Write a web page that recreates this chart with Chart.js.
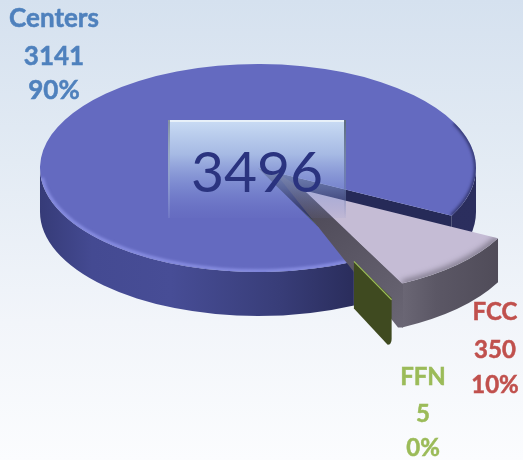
<!DOCTYPE html>
<html><head><meta charset="utf-8">
<script src="https://cdn.jsdelivr.net/npm/chart.js@4"></script>
<style>
html,body{margin:0;padding:0;width:523px;height:460px;overflow:hidden;background:linear-gradient(180deg,#d5e1ef 0%,#e3ebf4 35%,#f2f5fa 70%,#fbfcfe 100%);}
canvas{display:block;position:absolute;left:0;top:0}
</style></head><body>
<canvas id="c" width="523" height="460"></canvas>
<script>
const categories = ['Centers','FCC','FFN'];
const seriesValues = [3141,350,5];
const percentLabels = ['90%','10%','0%'];
const totalLabel = '3496';
const sliceColors = ['#646ac0','#c5bcd5','#9bbb59'];
const labelColors = ['#4f81bd','#c0504d','#9bbb59'];
const explode = [0,66,85];

const CX=258, CY=168, RX=218, RY=104, DEPTH=44;
function geom(chart){
  const a=chart.getDatasetMeta(0).data; const R=a[0].outerRadius;
  return {a,R,sx:RX/R,sy:RY/R};
}
function shift(arc,i){
  const mid=(arc.startAngle+arc.endAngle)/2;
  return {x:Math.cos(mid)*explode[i], y:Math.sin(mid)*explode[i]*RY/RX};
}
function pt(o,ang,dy=0){return [CX+o.x+RX*Math.cos(ang), CY+o.y+dy+RY*Math.sin(ang)];}
function band(ctx,o,a0,a1){
  ctx.beginPath();
  ctx.ellipse(CX+o.x,CY+o.y,RX,RY,0,a0,a1,false);
  ctx.ellipse(CX+o.x,CY+o.y+DEPTH,RX,RY,0,a1,a0,true);
  ctx.closePath();
}
const pie3d={
  id:'pie3d',
  beforeDatasetsDraw(chart){
    const ctx=chart.ctx,g=geom(chart),z={x:0,y:0},c=g.a[0];
    const st=c.startAngle,en=c.endAngle-2*Math.PI;
    let gr=ctx.createLinearGradient(40,0,476,0);
    gr.addColorStop(0,'#363b78');gr.addColorStop(.12,'#444a92');gr.addColorStop(.3,'#474d96');
    gr.addColorStop(.55,'#383d78');gr.addColorStop(.72,'#2a2d5c');gr.addColorStop(1,'#2b2e5e');
    ctx.fillStyle=gr;
    band(ctx,z,st,Math.PI);ctx.fill();
    band(ctx,z,0,en);ctx.fill();
    const p=pt(z,en);
    ctx.fillStyle='#262a58';
    ctx.beginPath();ctx.moveTo(CX,CY);ctx.lineTo(p[0],p[1]);ctx.lineTo(p[0],p[1]+DEPTH);ctx.lineTo(CX,CY+DEPTH);ctx.closePath();ctx.fill();
    g.a[1].draw=()=>{};g.a[2].draw=()=>{};
    ctx.save();
    ctx.translate(CX,CY);ctx.scale(g.sx,g.sy);ctx.translate(-c.x,-c.y);
  },
  afterDatasetsDraw(chart){
    const ctx=chart.ctx,g=geom(chart),[c,f,n]=g.a;
    ctx.restore();
    delete f.draw;delete n.draw;
    const drawAt=(el,o)=>{ctx.save();ctx.translate(CX+o.x,CY+o.y);ctx.scale(g.sx,g.sy);ctx.translate(-c.x,-c.y);el.draw(ctx);ctx.restore();};
    ctx.save();
    ctx.beginPath();ctx.ellipse(CX,CY,RX,RY,0,0,Math.PI*2);ctx.clip();
    ctx.filter='blur(1.5px)';ctx.lineWidth=3;
    ctx.strokeStyle='rgba(150,156,240,.85)';
    ctx.beginPath();ctx.ellipse(CX,CY,RX-1,RY-1,0,c.startAngle,Math.PI*.97);ctx.stroke();
    ctx.strokeStyle='rgba(40,44,95,.8)';ctx.lineWidth=4;
    ctx.beginPath();ctx.ellipse(CX,CY,RX,RY,0,-.45,c.endAngle-2*Math.PI);ctx.stroke();
    ctx.restore();
    const o=shift(f,1),a0=f.startAngle,a1=f.endAngle;
    const m=shift(n,2),na=n.endAngle;
    drawAt(n,m);
    const ap={x:CX+o.x,y:CY+o.y};
    const corner=pt(o,a1), cornerB=pt(o,a1,DEPTH);
    let gr=ctx.createLinearGradient(395,0,498,0);
    gr.addColorStop(0,'#6e6a78');gr.addColorStop(.4,'#5b5765');gr.addColorStop(1,'#504c59');
    ctx.fillStyle=gr;band(ctx,o,a0,a1);ctx.fill();
    gr=ctx.createLinearGradient(273,170,395,332);
    gr.addColorStop(0,'rgba(70,66,86,.55)');gr.addColorStop(.3,'#504c5a');gr.addColorStop(1,'#6a6674');
    ctx.fillStyle=gr;
    ctx.beginPath();ctx.moveTo(ap.x,ap.y);ctx.lineTo(corner[0]+1,corner[1]);
    ctx.lineTo(cornerB[0]+1,cornerB[1]);ctx.lineTo(cornerB[0]-4,cornerB[1]);ctx.lineTo(CX+15,CY+2);ctx.closePath();ctx.fill();
    const e0=pt({x:0,y:0},na),e1=pt(m,na);
    ctx.fillStyle='#3f4a20';
    ctx.beginPath();ctx.moveTo(e0[0],e0[1]);ctx.lineTo(e1[0],e1[1]);ctx.lineTo(e1[0],e1[1]+DEPTH-3);
    ctx.quadraticCurveTo(e1[0],e1[1]+DEPTH+3,e1[0]-4,e1[1]+DEPTH+3);
    ctx.lineTo(e0[0],e0[1]+DEPTH+3);ctx.closePath();ctx.fill();
    ctx.strokeStyle='#9bbb59';ctx.lineWidth=1.2;
    ctx.beginPath();ctx.moveTo(e0[0],e0[1]);ctx.lineTo(e1[0],e1[1]+2);ctx.stroke();
    drawAt(f,o);
    ctx.save();
    ctx.beginPath();ctx.moveTo(ap.x,ap.y);ctx.ellipse(ap.x,ap.y,RX,RY,0,a0,a1);ctx.closePath();ctx.clip();
    ctx.filter='blur(3px)';ctx.strokeStyle='#5a5664';ctx.lineWidth=4;
    ctx.beginPath();ctx.ellipse(ap.x,ap.y,RX,RY,0,a0,a1);ctx.stroke();
    ctx.restore();
  },
  afterDraw(chart){
    const ctx=chart.ctx;
    const x=168,y=120,w=178,h=98;
    let gr=ctx.createLinearGradient(0,y,0,y+h);
    gr.addColorStop(0,'rgba(205,224,246,.97)');gr.addColorStop(.35,'rgba(178,200,234,.85)');
    gr.addColorStop(.7,'rgba(140,160,220,.5)');gr.addColorStop(1,'rgba(120,130,205,.08)');
    ctx.fillStyle=gr;ctx.fillRect(x,y,w,h);
    ctx.fillStyle='rgba(235,243,250,.9)';ctx.fillRect(x,y,w,2);
    let e=ctx.createLinearGradient(0,y,0,y+h);
    e.addColorStop(0,'rgba(70,85,105,.85)');e.addColorStop(1,'rgba(70,85,125,0)');
    ctx.fillStyle=e;ctx.fillRect(x+w-2,y,2,h);
    e=ctx.createLinearGradient(0,y,0,y+h);
    e.addColorStop(0,'rgba(110,125,140,.8)');e.addColorStop(1,'rgba(200,215,235,.1)');
    ctx.fillStyle=e;ctx.fillRect(x,y,2,h);
    ctx.textAlign='center';ctx.textBaseline='alphabetic';
    ctx.fillStyle='#2a337f';ctx.font='57px Lato';
    ctx.fillText(totalLabel,257,192);
    const spots=[[54,[27,65,99],26],[495,[320,358,393],24],[423,[385,422,456],24]];
    categories.forEach((cat,i)=>{
      const [lx,ys,fs]=spots[i];
      ctx.fillStyle=labelColors[i];ctx.strokeStyle=labelColors[i];ctx.lineWidth=.5;ctx.font=`bold ${fs}px Lato`;
      [cat,String(seriesValues[i]),percentLabels[i]].forEach((t,k)=>{
        ctx.fillText(t,lx,ys[k]);ctx.strokeText(t,lx,ys[k]);
      });
    });
  }
};
new Chart(document.getElementById('c'),{
  type:'pie',
  data:{labels:categories,datasets:[{data:seriesValues,backgroundColor:sliceColors,borderWidth:0,clip:false}]},
  options:{responsive:false,animation:false,rotation:153.9,
    plugins:{legend:{display:false},tooltip:{enabled:false}}},
  plugins:[pie3d]
});
</script>
</body></html>
